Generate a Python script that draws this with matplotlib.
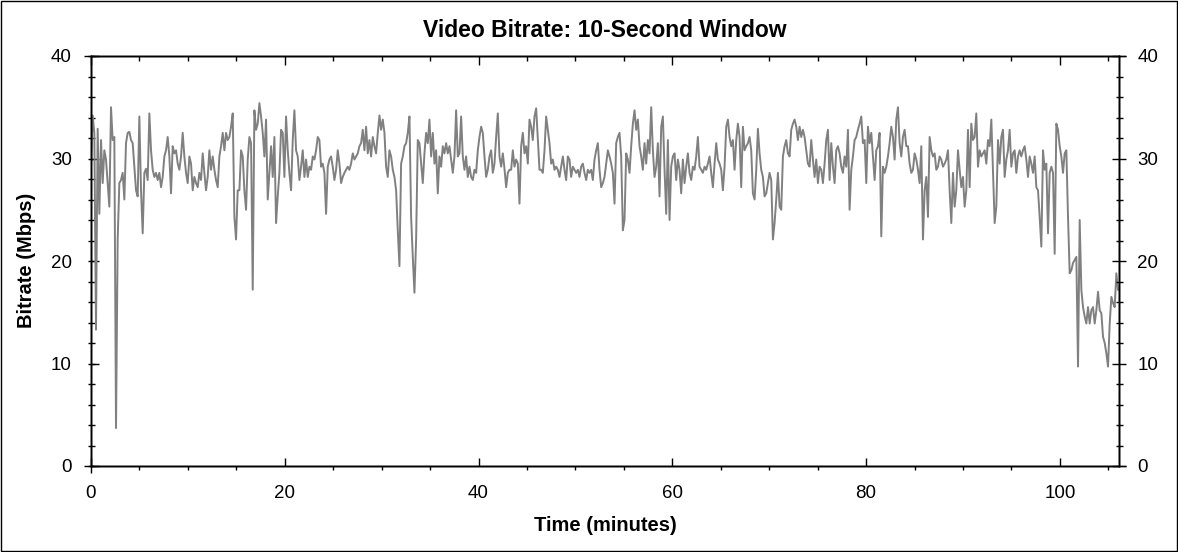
import numpy as np
import matplotlib
matplotlib.use("Agg")
import matplotlib.pyplot as plt
from matplotlib.ticker import MultipleLocator
from matplotlib.patches import Rectangle

# ---------------- data ----------------
title = "Video Bitrate: 10-Second Window"
x_label = "Time (minutes)"
y_label = "Bitrate (Mbps)"
duration_min = 106.0
x_ticks = [0, 20, 40, 60, 80, 100]
y_ticks = [0, 10, 20, 30, 40]

# bitrate (Mbps), one reading about every 10 seconds
bitrate_0_21 = [
    29.2, 34.2, 32.5, 13.3, 32.9, 24.6, 31.8, 27.6, 30.8, 29.9,
    27.6, 25.3, 35.0, 31.8, 32.1, 3.7, 22.1, 27.6, 27.9, 28.6,
    26.0, 31.5, 32.5, 32.6, 31.8, 31.5, 29.2, 26.9, 26.3, 34.1,
    26.9, 22.7, 28.6, 29.0, 27.9, 34.4, 30.8, 28.9, 28.2, 28.6,
    27.9, 28.6, 27.2, 28.2, 30.2, 30.8, 32.1, 30.2, 26.6, 31.2,
    30.5, 30.8, 29.5, 28.9, 30.2, 32.5, 30.2, 28.6, 27.6, 30.2,
    29.5, 26.9, 28.2, 27.6, 27.2, 28.6, 27.9, 30.5, 28.6, 26.9,
    28.2, 30.8, 28.9, 30.2, 28.9, 27.9, 27.2, 30.2, 31.2, 32.5,
    30.8, 32.5, 31.8, 32.1, 33.1, 34.4, 24.3, 22.1, 26.9, 26.9,
    30.8, 30.2, 26.9, 25.0, 29.9, 32.1, 31.5, 17.2, 34.7, 32.8,
    33.4, 35.4, 34.1, 32.5, 30.2, 33.8, 26.0, 28.6, 31.2, 28.2,
    32.1, 23.7, 26.3, 28.6, 32.8, 32.5, 28.2, 34.1, 30.8, 28.6,
    26.9, 31.8, 34.7, 30.8, 30.2,
]
bitrate_21_43 = [
    27.9, 29.2, 30.8, 28.2, 29.9, 28.2, 29.2, 28.9, 30.2, 29.9,
    30.8, 32.1, 31.8, 29.2, 29.5, 28.6, 24.6, 29.2, 29.9, 30.2,
    29.2, 27.9, 28.9, 30.8, 29.5, 27.6, 28.2, 28.6, 28.9, 29.2,
    28.9, 29.5, 30.5, 29.9, 30.2, 30.5, 31.2, 31.5, 32.8, 30.8,
    33.1, 30.5, 31.8, 30.2, 32.1, 31.2, 30.5, 32.5, 34.2, 32.8,
    33.8, 32.5, 29.2, 28.2, 30.8, 30.2, 28.9, 28.2, 26.9, 23.0,
    19.5, 29.5, 30.2, 31.2, 31.5, 32.5, 34.1, 24.3, 20.4, 16.9,
    22.1, 31.8, 31.5, 29.5, 27.6, 30.5, 32.5, 31.5, 33.8, 30.2,
    32.5, 29.5, 30.8, 26.6, 30.2, 29.2, 31.2, 30.5, 31.5, 30.5,
    31.2, 29.9, 28.6, 30.2, 34.7, 30.2, 30.5, 34.1, 30.2, 28.9,
    30.2, 28.2, 29.2, 28.2, 27.9, 28.9, 28.6, 30.8, 32.1, 33.1,
    32.5, 30.2, 28.2, 28.9, 30.2, 30.8, 28.6, 29.5, 32.1, 34.4,
    30.2, 29.2, 30.5,
]
bitrate_43_64 = [
    29.0, 27.2, 28.6, 28.9, 28.9, 30.8, 29.2, 29.9, 29.5, 25.6,
    31.2, 32.5, 30.5, 31.2, 29.5, 33.8, 33.1, 31.8, 34.1, 34.9,
    31.8, 28.9, 28.9, 28.6, 30.8, 34.1, 32.8, 31.5, 29.5, 29.9,
    28.9, 29.2, 28.9, 28.2, 29.2, 30.2, 28.9, 27.9, 30.2, 29.9,
    28.2, 29.2, 28.9, 28.6, 28.9, 28.2, 29.2, 29.5, 28.6, 27.9,
    28.9, 28.6, 28.9, 27.9, 29.9, 30.8, 31.5, 28.9, 27.2, 27.6,
    28.2, 29.5, 30.8, 30.2, 29.5, 28.6, 25.6, 31.5, 32.1, 32.5,
    30.2, 23.0, 24.0, 30.5, 29.9, 28.6, 31.2, 33.4, 34.7, 32.8,
    33.8, 31.2, 30.2, 28.9, 31.5, 29.5, 31.8, 30.5, 35.0, 30.8,
    28.2, 29.2, 31.5, 26.3, 33.1, 34.1, 28.9, 24.6, 31.8, 24.0,
    29.2, 30.2, 30.5, 27.9, 29.9, 28.9, 26.6, 29.9, 27.6, 29.2,
    30.5, 28.6, 27.9, 29.2, 28.9, 30.2, 32.1, 29.2, 28.9, 28.6,
    29.2, 28.9, 29.5,
]
bitrate_64_85 = [
    30.2, 28.6, 27.2, 29.5, 31.5, 29.9, 29.5, 28.9, 26.9, 29.2,
    33.1, 33.8, 32.1, 31.2, 31.8, 28.9, 31.8, 33.4, 32.1, 27.2,
    33.1, 30.8, 31.2, 31.5, 32.1, 30.8, 26.6, 26.0, 28.9, 32.9,
    30.5, 28.9, 28.2, 26.3, 26.6, 27.6, 28.6, 27.9, 22.1, 23.7,
    26.0, 28.6, 25.3, 25.0, 30.2, 31.2, 31.8, 30.5, 30.2, 32.8,
    33.4, 33.8, 33.1, 31.8, 33.1, 32.1, 32.8, 32.1, 30.8, 29.5,
    29.2, 31.8, 29.9, 28.2, 29.9, 27.6, 29.2, 28.9, 27.6, 29.5,
    31.8, 32.8, 27.9, 31.5, 29.2, 27.6, 30.8, 31.2, 30.5, 29.2,
    28.6, 30.2, 29.2, 32.8, 25.0, 28.9, 30.2, 31.8, 32.1, 32.8,
    33.4, 34.1, 31.5, 31.8, 27.6, 33.1, 31.5, 32.5, 30.2, 27.9,
    30.8, 31.2, 32.5, 22.4, 29.2, 28.6, 29.2, 30.2, 31.5, 33.1,
    32.1, 29.9, 33.8, 35.0, 31.5, 30.2, 32.1, 32.8, 31.2, 31.2,
    29.5, 28.6, 28.9,
]
bitrate_85_106 = [
    30.5, 29.9, 28.9, 27.6, 31.2, 22.1, 26.9, 28.2, 24.3, 32.1,
    30.8, 30.2, 30.5, 28.9, 29.2, 30.2, 29.9, 29.2, 29.5, 29.9,
    30.8, 26.9, 23.7, 28.6, 25.3, 26.9, 30.8, 28.9, 27.2, 28.2,
    25.3, 26.9, 32.8, 27.2, 33.4, 31.8, 32.1, 34.4, 29.2, 30.8,
    30.2, 30.5, 30.8, 29.5, 31.8, 31.2, 33.8, 28.6, 23.7, 25.3,
    31.8, 29.5, 32.1, 32.8, 28.2, 29.9, 30.8, 32.8, 29.2, 30.5,
    30.8, 28.6, 30.2, 30.8, 30.2, 30.8, 31.2, 29.9, 28.2, 30.2,
    29.5, 28.6, 30.2, 27.2, 26.9, 24.3, 21.4, 30.8, 28.9, 29.5,
    22.7, 28.6, 29.2, 28.6, 20.7, 33.4, 32.8, 31.2, 30.2, 28.6,
    30.5, 30.8, 24.3, 18.8, 19.1, 19.8, 20.1, 20.4, 9.7, 24.0,
    17.2, 15.5, 14.6, 13.9, 15.5, 13.9, 15.2, 15.5, 13.9, 15.2,
    17.0, 15.2, 14.9, 12.6, 12.0, 11.0, 9.7, 13.9, 16.5, 15.9,
    15.5, 18.8, 17.2,
]

bitrate = np.concatenate([bitrate_0_21, bitrate_21_43, bitrate_43_64,
                          bitrate_64_85, bitrate_85_106])
time_min = np.linspace(0.0, duration_min, len(bitrate))

# ---------------- figure ----------------
plt.rcParams["font.family"] = ["Liberation Sans", "DejaVu Sans"]
W, H = 1178, 552
fig = plt.figure(figsize=(W / 100, H / 100), dpi=100)
fig.patch.set_facecolor("white")

L, R, T, B = 91, 1119, 56, 466
ax = fig.add_axes([L / W, 1 - B / H, (R - L) / W, (B - T) / H])
ax.plot(time_min, bitrate, color="#808080", lw=1.4)
ax.set_xlim(0, 106.1)
ax.set_ylim(0, 40)

px = 72 / 100  # points per pixel
tick_fs = 13.5
for s in ax.spines.values():
    s.set_linewidth(1.0)
    s.set_color("black")

ax.set_xticks(x_ticks)
ax.set_yticks(y_ticks)
ax.xaxis.set_minor_locator(MultipleLocator(5))
ax.yaxis.set_minor_locator(MultipleLocator(2))
ax.yaxis.remove_overlapping_locs = False
ax.tick_params(axis="x", which="major", direction="in", length=8 * px,
               width=1.0, pad=19 * px, labelsize=tick_fs, top=False)
ax.tick_params(axis="x", which="minor", direction="out", length=3.5 * px,
               width=1.0, top=False)
ax.tick_params(axis="y", which="major", direction="in", length=8 * px,
               width=1.0, pad=19 * px, labelsize=tick_fs, right=False)
ax.tick_params(axis="y", which="minor", direction="inout", length=7 * px,
               width=1.0, right=False)

# top axis ticks
axt = ax.twiny()
axt.set_xlim(ax.get_xlim())
axt.set_xticks(x_ticks)
axt.xaxis.set_minor_locator(MultipleLocator(5))
axt.tick_params(axis="x", which="major", direction="in", length=8.5 * px,
                width=1.0, labeltop=False)
axt.tick_params(axis="x", which="minor", direction="in", length=5 * px,
                width=1.0)
# right axis ticks + labels
axr = ax.twinx()
axr.set_ylim(ax.get_ylim())
axr.set_yticks(y_ticks)
axr.yaxis.set_minor_locator(MultipleLocator(2))
axr.tick_params(axis="y", which="major", direction="inout", length=14 * px,
                width=1.0, pad=11.5 * px, labelsize=tick_fs)
axr.tick_params(axis="y", which="minor", direction="inout", length=7 * px,
                width=1.0)
for a in (axt, axr):
    for s in a.spines.values():
        s.set_linewidth(1.0)

# small spine overhangs at the corners
ex = 7 / (R - L)
ey = 7 / (B - T)
for xs, ys in (([-ex, 0], [0, 0]), ([1, 1 + ex], [0, 0]),
               ([-ex, 0], [1, 1]), ([1, 1 + ex], [1, 1]),
               ([0, 0], [-ey, 0])):
    ax.plot(xs, ys, transform=ax.transAxes, color="black", lw=1.0,
            clip_on=False, solid_capstyle="butt")

# texts
fig.text((L + R) / 2 / W, 1 - 37 / H, title, ha="center", va="baseline",
         fontsize=16.5, fontweight="bold")
fig.text((L + R) / 2 / W, 1 - 531 / H, x_label, ha="center", va="baseline",
         fontsize=14.5, fontweight="bold")
fig.text(32.5 / W, 1 - 260.5 / H, y_label, ha="center", va="baseline",
         rotation=90, rotation_mode="anchor", fontsize=14.5,
         fontweight="bold")

# outer frame
fig.patches.append(Rectangle((0.6 / W, 1.2 / H), (W - 2.0) / W, (H - 2.2) / H,
                             transform=fig.transFigure, fill=False,
                             edgecolor="black", lw=1.0))

fig.savefig("out.png", dpi=100, facecolor="white")
